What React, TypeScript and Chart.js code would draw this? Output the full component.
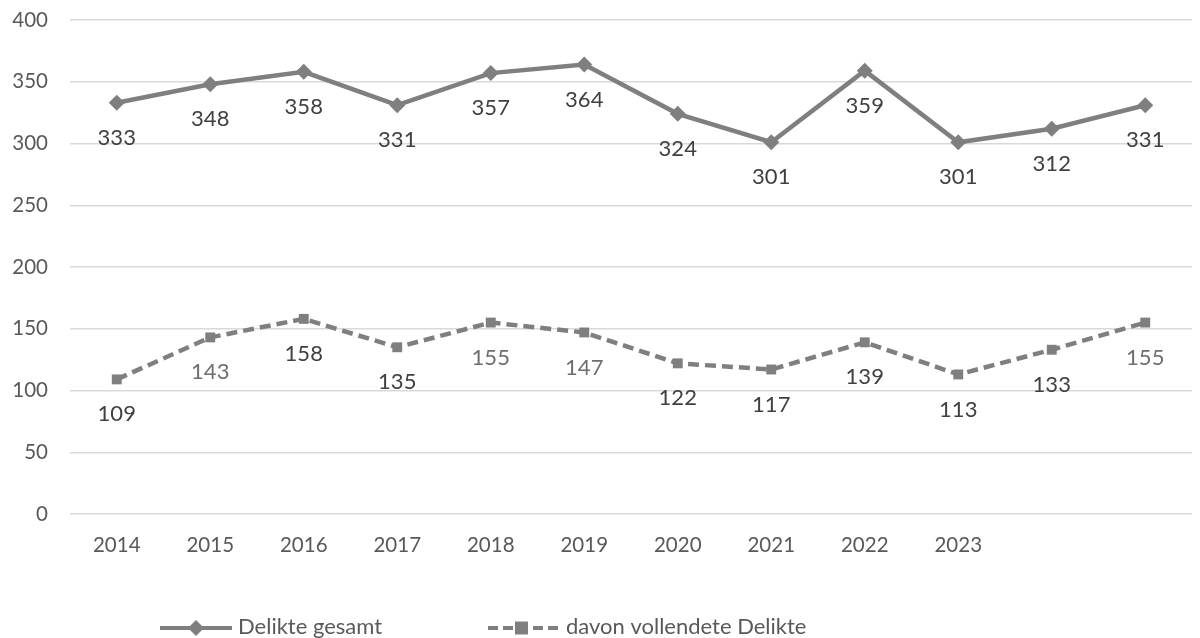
import React, { useEffect, useRef } from "react";
import { Chart, registerables } from "chart.js";

Chart.register(...registerables);

const categories = ["2014", "2015", "2016", "2017", "2018", "2019", "2020", "2021", "2022", "2023", "", ""];
const delikteGesamt = [333, 348, 358, 331, 357, 364, 324, 301, 359, 301, 312, 331];
const vollendete = [109, 143, 158, 135, 155, 147, 122, 117, 139, 113, 133, 155];
const gesamtLabelColors = ["#404040", "#404040", "#404040", "#404040", "#404040", "#404040", "#404040", "#404040", "#404040", "#404040", "#404040", "#404040"];
const vollendeteLabelColors = ["#404040", "#6e6e6e", "#404040", "#404040", "#6e6e6e", "#6e6e6e", "#404040", "#404040", "#404040", "#404040", "#404040", "#6e6e6e"];
const seriesNames = ["Delikte gesamt", "davon vollendete Delikte"];
const yTicks = [0, 50, 100, 150, 200, 250, 300, 350, 400];

const FONT = "Lato, 'Open Sans', sans-serif";
const LINE = "#7f7f7f";

const labelPlugin = {
  id: "valueLabels",
  afterDatasetsDraw(chart: any) {
    const ctx = chart.ctx;
    ctx.save();
    ctx.font = `22px ${FONT}`;
    ctx.textAlign = "center";
    ctx.textBaseline = "middle";
    const colorSets = [gesamtLabelColors, vollendeteLabelColors];
    chart.data.datasets.forEach((ds: any, i: number) => {
      const meta = chart.getDatasetMeta(i);
      meta.data.forEach((pt: any, j: number) => {
        ctx.fillStyle = colorSets[i][j];
        ctx.fillText(String(ds.data[j]), pt.x, pt.y + 35);
      });
    });
    ctx.restore();
  },
};

const legendPlugin = {
  id: "customLegend",
  afterDraw(chart: any) {
    const ctx = chart.ctx;
    ctx.save();
    const y = 628;
    ctx.strokeStyle = LINE;
    ctx.fillStyle = LINE;
    ctx.lineWidth = 4;
    ctx.setLineDash([]);
    ctx.beginPath();
    ctx.moveTo(160, y);
    ctx.lineTo(232, y);
    ctx.stroke();
    ctx.beginPath();
    ctx.moveTo(196, y - 8);
    ctx.lineTo(204, y);
    ctx.lineTo(196, y + 8);
    ctx.lineTo(188, y);
    ctx.closePath();
    ctx.fill();
    ctx.setLineDash([10, 5]);
    ctx.beginPath();
    ctx.moveTo(488, y);
    ctx.lineTo(558, y);
    ctx.stroke();
    ctx.setLineDash([]);
    ctx.fillRect(515, y - 6.5, 13, 13);
    ctx.font = `22px ${FONT}`;
    ctx.fillStyle = "#595959";
    ctx.textAlign = "left";
    ctx.textBaseline = "middle";
    ctx.fillText(seriesNames[0], 238, y - 1);
    ctx.fillText(seriesNames[1], 566, y - 1);
    ctx.restore();
  },
};

export default function App() {
  const ref = useRef<HTMLCanvasElement>(null);
  useEffect(() => {
    document.body.style.margin = "0";
    const chart = new Chart(ref.current!, {
      type: "line",
      data: {
        labels: categories,
        datasets: [
          {
            label: seriesNames[0],
            data: delikteGesamt,
            borderColor: LINE,
            backgroundColor: LINE,
            borderWidth: 4.5,
            pointStyle: "rectRot",
            pointRadius: 8,
            pointBorderWidth: 0,
            tension: 0,
          },
          {
            label: seriesNames[1],
            data: vollendete,
            borderColor: LINE,
            backgroundColor: LINE,
            borderWidth: 4.5,
            borderDash: [11, 6],
            pointStyle: "rect",
            pointRadius: 7,
            pointBorderWidth: 0,
            tension: 0,
          },
        ],
      },
      options: {
        animation: false,
        responsive: false,
        maintainAspectRatio: false,
        layout: { padding: { top: 20, right: 0, bottom: 0, left: 0 } },
        plugins: { legend: { display: false }, tooltip: { enabled: false } },
        scales: {
          x: {
            offset: true,
            grid: { display: false, drawTicks: false },
            border: { display: false },
            ticks: { color: "#595959", font: { family: FONT, size: 20.5 }, padding: 19, maxRotation: 0, autoSkip: false },
            afterFit: (s: any) => { s.height = 124; },
          },
          y: {
            min: 0,
            max: 400,
            afterBuildTicks: (s: any) => { s.ticks = yTicks.map((v) => ({ value: v })); },
            grid: { color: "#d9d9d9", lineWidth: 1.5, drawTicks: false },
            border: { display: false },
            ticks: { color: "#595959", font: { family: FONT, size: 20.5 }, padding: 22 },
            afterFit: (s: any) => { s.width = 70; s.paddingTop = 0; s.paddingBottom = 0; },
          },
        },
      },
      plugins: [labelPlugin, legendPlugin],
    });
    return () => chart.destroy();
  }, []);
  return <canvas ref={ref} width={1200} height={638} style={{ display: "block" }} />;
}
